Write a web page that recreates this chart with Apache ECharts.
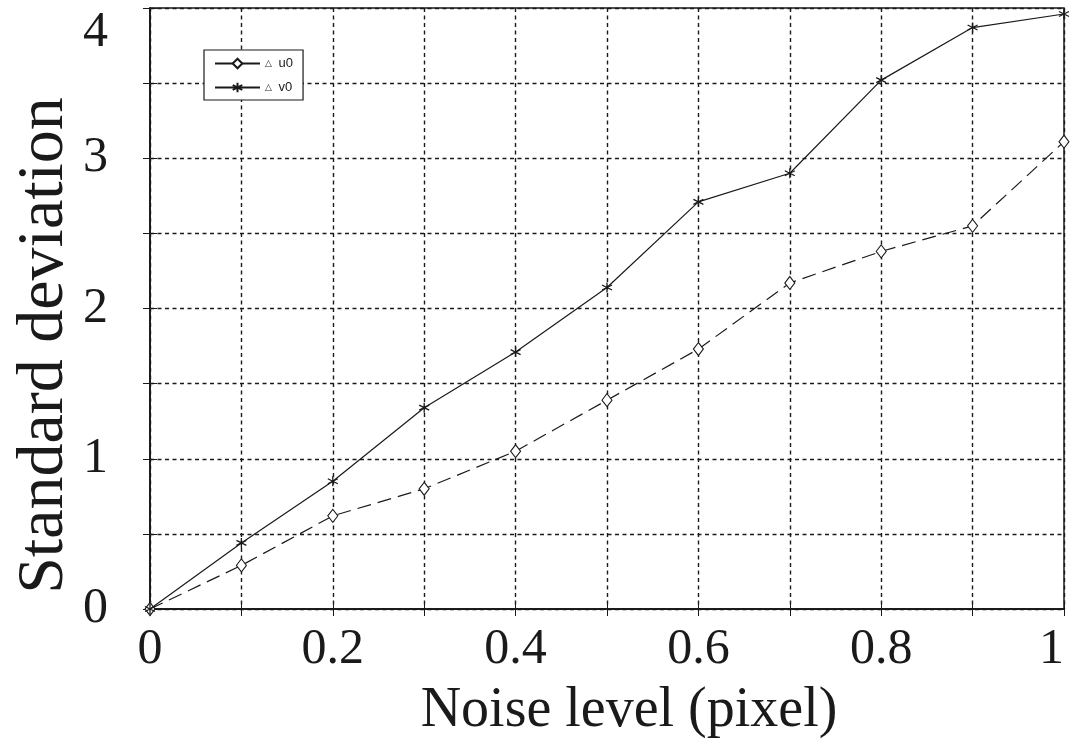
<!DOCTYPE html>
<html>
<head>
<meta charset="utf-8">
<script src="https://cdn.jsdelivr.net/npm/echarts@6/dist/echarts.min.js"></script>
<style>
html,body{margin:0;padding:0;background:#fff;}
#chart{width:1079px;height:753px;}
</style>
</head>
<body>
<div id="chart"></div>
<script>
// Data
var noiseLevels = [0, 0.1, 0.2, 0.3, 0.4, 0.5, 0.6, 0.7, 0.8, 0.9, 1.0];
var u0Values = [0, 0.29, 0.62, 0.80, 1.05, 1.39, 1.73, 2.17, 2.38, 2.55, 3.11];
var v0Values = [0, 0.44, 0.85, 1.34, 1.71, 2.14, 2.71, 2.90, 3.52, 3.87, 3.96];
var seriesNames = ['u0', 'v0'];
var xTickLabels = ['0', '0.2', '0.4', '0.6', '0.8', '1'];
var yTickLabels = ['0', '1', '2', '3', '4'];
var xTitle = 'Noise level (pixel)';
var yTitle = 'Standard deviation';

function pairs(xs, ys) { return xs.map(function (x, i) { return [x, ys[i]]; }); }

var INK = '#1a1a1a';
var serif = '"Liberation Serif", "Times New Roman", serif';
var starPath = 'path://M5,0 L5,10 M0.7,2.5 L9.3,7.5 M0.7,7.5 L9.3,2.5';

var chart = echarts.init(document.getElementById('chart'), null, {renderer: 'canvas'});
var gridLine = {show: true, lineStyle: {color: INK, width: 1.4, type: [4, 3.5]}};

chart.setOption({
  animation: false,
  backgroundColor: '#fff',
  grid: {left: 150, right: 15, top: 8, bottom: 144, containLabel: false, outerBoundsMode: 'none',
         show: true, borderColor: INK, borderWidth: 1.5, backgroundColor: 'transparent'},
  legend: {
    orient: 'vertical',
    left: 204, top: 50,
    padding: [7, 10, 6, 10],
    itemWidth: 45, itemHeight: 12, itemGap: 11,
    borderColor: INK, borderWidth: 1.2,
    backgroundColor: '#fff',
    data: seriesNames.map(function (n) { return {name: n, lineStyle: {type: 'solid'}}; }),
    formatter: function (n) { return '{t|\u25B3}  {n|' + n + '}'; },
    textStyle: {
      color: INK,
      rich: {
        t: {fontSize: 9, fontFamily: '"DejaVu Sans", sans-serif', color: INK},
        n: {fontSize: 13, fontFamily: '"Liberation Sans", Arial, sans-serif', color: INK}
      }
    }
  },
  xAxis: [{
    type: 'value', min: 0, max: 1, interval: 0.1,
    name: xTitle, nameLocation: 'middle', nameGap: 74, nameMoveOverlap: false,
    nameTextStyle: {fontFamily: serif, fontSize: 56, color: INK, padding: [0, 0, 0, 44]},
    axisLine: {show: true, onZero: false, lineStyle: {color: INK, width: 1.5}},
    axisTick: {show: true, inside: true, length: 7, lineStyle: {color: INK}},
    splitLine: gridLine,
    axisLabel: {
      margin: 16, fontFamily: serif, fontSize: 50, color: INK,
      alignMaxLabel: 'right',
      formatter: function (v) {
        var k = Math.round(v * 10);
        return k % 2 === 0 ? xTickLabels[k / 2] : '';
      }
    }
  }, {
    type: 'value', min: 0, max: 1, interval: 0.1, position: 'top',
    axisLine: {show: true, lineStyle: {color: INK, width: 1.5}},
    axisTick: {show: true, inside: true, length: 7, lineStyle: {color: INK}},
    axisLabel: {show: false}, splitLine: {show: false}
  }],
  yAxis: [{
    type: 'value', min: 0, max: 4, interval: 0.5,
    name: yTitle, nameLocation: 'middle', nameGap: 72, nameMoveOverlap: false,
    nameTextStyle: {fontFamily: serif, fontSize: 66, color: INK, padding: [0, 74, 0, 0]},
    axisLine: {show: true, lineStyle: {color: INK, width: 1.5}},
    axisTick: {show: true, inside: true, length: 7, lineStyle: {color: INK}},
    splitLine: gridLine,
    axisLabel: {
      margin: 42, fontFamily: serif, fontSize: 50, color: INK,
      verticalAlignMaxLabel: 'top',
      formatter: function (v) {
        var k = Math.round(v * 2);
        return k % 2 === 0 ? yTickLabels[k / 2] : '';
      }
    }
  }, {
    type: 'value', min: 0, max: 4, interval: 0.5, position: 'right',
    axisLine: {show: true, lineStyle: {color: INK, width: 1.5}},
    axisTick: {show: true, inside: true, length: 7, lineStyle: {color: INK}},
    axisLabel: {show: false}, splitLine: {show: false}
  }],
  series: [{
    name: seriesNames[0], type: 'line',
    data: pairs(noiseLevels, u0Values),
    symbol: 'diamond', symbolSize: [10, 13],
    lineStyle: {color: INK, width: 1.2, type: [14, 7]},
    itemStyle: {color: '#fff', borderColor: INK, borderWidth: 1.1},
    z: 3
  }, {
    name: seriesNames[1], type: 'line',
    data: pairs(noiseLevels, v0Values),
    symbol: starPath, symbolSize: 10,
    lineStyle: {color: INK, width: 1.2, type: 'solid'},
    itemStyle: {color: 'rgba(0,0,0,0)', borderColor: INK, borderWidth: 1.3},
    z: 4
  }]
});
</script>
</body>
</html>
